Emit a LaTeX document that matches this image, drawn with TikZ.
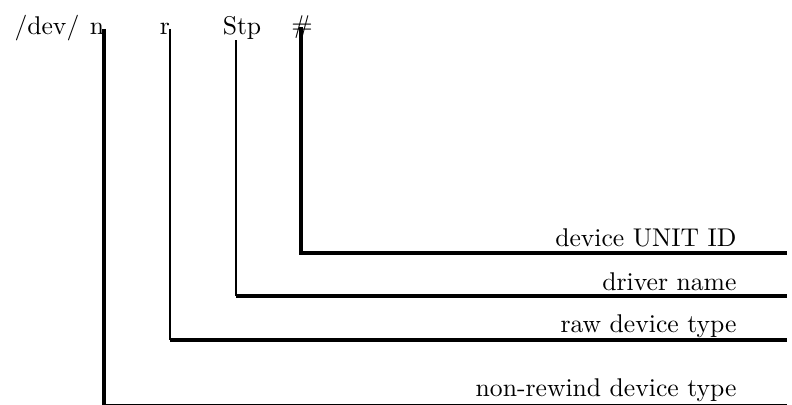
\documentclass[tikz,border=0pt]{standalone}
\usetikzlibrary{positioning}

\tikzset{
    word/.style={inner sep=0pt},
    field/.style={inner sep=0pt, anchor=base east},
    wide/.style={line width=1.2pt},
    narrow/.style={line width=0.7pt},
}

\begin{document}
\begin{tikzpicture}[x=0.39pt, y=-0.39pt]

% page frame
\useasboundingbox (0,0) rectangle (792,405);

% the device name, part by part
\node[word, anchor=base west] (dev) at (14,35) {/dev/};
\node[word] (n) at (97,29) {n};
\node[word] (r) at (165,29) {r};
\node[word, anchor=base] (stp) at (242,35) {Stp};
\node[word] (hash) at (302,27) {\#};

% what each part means
\node[field] (unit) at (737,246) {device UNIT ID};
\node[field] (driver) at (737,290) {driver name};
\node[field] (raw) at (737,333) {raw device type};
\node[field] (norew) at (737,397) {non-rewind device type};

% corners and right ends of the lines
\coordinate (unit corner) at (301,253);
\coordinate (driver corner) at (236,296);
\coordinate (raw corner) at (170,340);
\coordinate (norew corner) at (104,405.5);
\foreach \c/\y in {unit/253, driver/296, raw/340, norew/405.5}
    \coordinate (\c\space end) at (787,\y);

% # : device UNIT ID
\draw[wide] (hash.center -| unit corner) -- (unit corner) -- (unit end);

% Stp : driver name
\draw[narrow] (stp.south -| driver corner) -- (driver corner);
\draw[wide] (driver corner) -- (driver end);

% r : raw device type
\draw[narrow] (r.east -| raw corner) -- (raw corner);
\draw[wide] (raw corner) -- (raw end);

% n : non-rewind device type
\draw[wide] (n.east -| norew corner) -- (norew corner) -- (norew end);

\end{tikzpicture}
\end{document}
